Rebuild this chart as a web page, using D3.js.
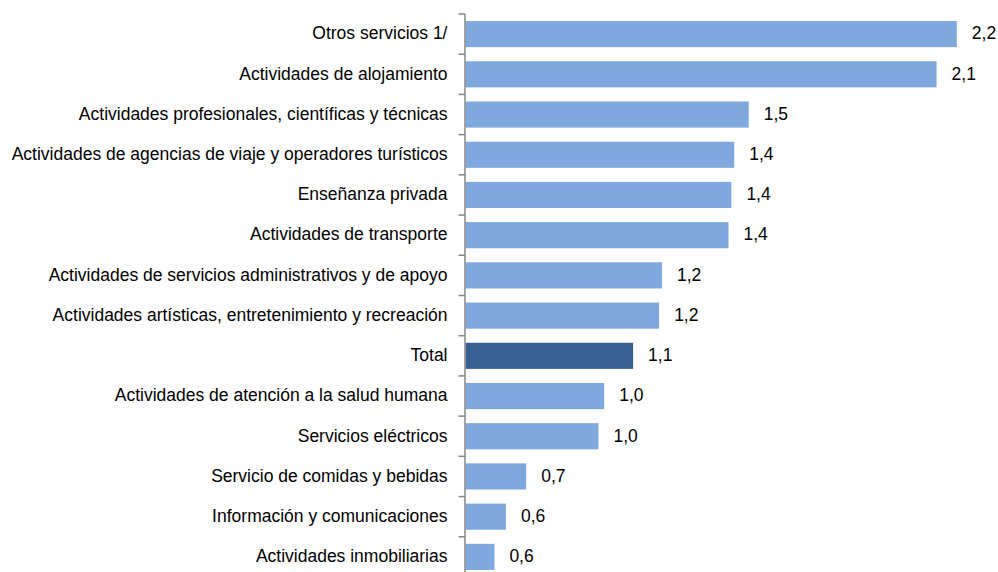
<!DOCTYPE html>
<html>
<head>
<meta charset="utf-8">
<script src="https://cdn.jsdelivr.net/npm/d3@7"></script>
<style>
  html, body { margin: 0; padding: 0; background: #fff; }
  svg text { font-family: "Liberation Sans Narrow", "Arial Narrow", "Liberation Sans", Arial, sans-serif; fill: #000; }
</style>
</head>
<body>
<svg id="chart" width="998" height="572"></svg>
<script>
// Sectores y su variación (ordenados de mayor a menor)
const categories = [
  "Otros servicios 1/",
  "Actividades de alojamiento",
  "Actividades profesionales, científicas y técnicas",
  "Actividades de agencias de viaje y operadores turísticos",
  "Enseñanza privada",
  "Actividades de transporte",
  "Actividades de servicios administrativos y de apoyo",
  "Actividades artísticas, entretenimiento y recreación",
  "Total",
  "Actividades de atención a la salud humana",
  "Servicios eléctricos",
  "Servicio de comidas y bebidas",
  "Información y comunicaciones",
  "Actividades inmobiliarias"
];
const values = [2.20, 2.13, 1.48, 1.43, 1.42, 1.41, 1.18, 1.17, 1.08, 0.98, 0.96, 0.71, 0.64, 0.60];
const highlighted = ["Total"];

const data = categories.map((c, i) => ({ name: c, value: values[i] }));

const svg = d3.select("#chart");
const fontSize = 17.5;

const axisX = 465.5;
const x = d3.scaleLinear().domain([0.5, 2.2]).range([axisX, 956.8]);
const y = d3.scaleBand().domain(categories).range([14, 577]).paddingInner(0.35).paddingOuter(0.175);

const fmt = d3.formatLocale({ decimal: ",", thousands: ".", grouping: [3], currency: ["", ""] }).format(".1f");

// barras
svg.append("g").selectAll("rect")
  .data(data)
  .join("rect")
  .attr("x", x(0.5))
  .attr("y", d => y(d.name))
  .attr("width", d => x(d.value) - x(0.5))
  .attr("height", y.bandwidth())
  .attr("fill", d => highlighted.includes(d.name) ? "#36608f" : "#7ea8de");

// eje vertical con marcas entre categorías
const step = y.step();
const gAxis = svg.append("g");
gAxis.append("line")
  .attr("x1", axisX - 0.5).attr("x2", axisX - 0.5)
  .attr("y1", 14).attr("y2", 577)
  .attr("stroke", "#868686").attr("stroke-width", 1.5);
const bounds = d3.range(categories.length + 1).map(i => 14 + i * step);
gAxis.selectAll("line.tick")
  .data(bounds)
  .join("line")
  .attr("class", "tick")
  .attr("x1", axisX - 7).attr("x2", axisX - 0.5)
  .attr("y1", d => d).attr("y2", d => d)
  .attr("stroke", "#868686").attr("stroke-width", 1.5);

// etiquetas de categoría
svg.append("g").selectAll("text")
  .data(data)
  .join("text")
  .attr("x", axisX - 18)
  .attr("y", d => y(d.name) + y.bandwidth() / 2)
  .attr("dy", "0.3em")
  .attr("text-anchor", "end")
  .attr("font-size", fontSize)
  .text(d => d.name);

// etiquetas de valor
svg.append("g").selectAll("text")
  .data(data)
  .join("text")
  .attr("x", d => x(d.value) + 15)
  .attr("y", d => y(d.name) + y.bandwidth() / 2)
  .attr("dy", "0.3em")
  .attr("font-size", fontSize)
  .text(d => fmt(d.value));
</script>
</body>
</html>
